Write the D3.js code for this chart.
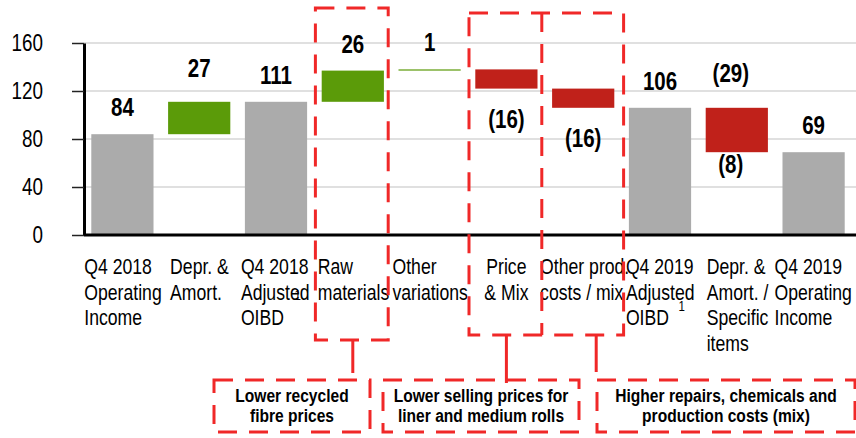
<!DOCTYPE html>
<html>
<head>
<meta charset="utf-8">
<script src="https://cdn.jsdelivr.net/npm/d3@7"></script>
<style>
  html, body { margin: 0; padding: 0; background: #fff; }
  svg { display: block; }
</style>
</head>
<body>
<svg id="svg" width="856" height="438"></svg>
<script>
// chart data
var categories = ["Q4 2018 Operating Income", "Depr. & Amort.", "Q4 2018 Adjusted OIBD",
  "Raw materials", "Other variations", "Price & Mix", "Other prod. costs / mix",
  "Q4 2019 Adjusted OIBD", "Depr. & Amort. / Specific items", "Q4 2019 Operating Income"];
var categoryLines = [["Q4 2018", "Operating", "Income"], ["Depr. &", "Amort."], ["Q4 2018", "Adjusted", "OIBD"],
  ["Raw", "materials"], ["Other", "variations"], ["Price", "& Mix"], ["Other prod.", "costs / mix"],
  ["Q4 2019", "Adjusted", "OIBD"], ["Depr. &", "Amort. /", "Specific", "items"], ["Q4 2019", "Operating", "Income"]];
var barTypes = ["total", "delta", "total", "delta", "delta", "delta", "delta", "total", "delta", "total"];
var values = [84, 27, 111, 26, 1, -16, -16, 106, -37, 69];
var valueLabels = [["84"], ["27"], ["111"], ["26"], ["1"], ["(16)"], ["(16)"], ["106"], ["(29)", "(8)"], ["69"]];
var yTicks = [0, 40, 80, 120, 160];
var footnoteCats = [2, 7];
var callouts = ["Raw materials", "Price & Mix", "Other prod. costs / mix"];
var calloutTexts = [["Lower recycled", "fibre prices"], ["Lower selling prices for", "liner and medium rolls"],
  ["Higher repairs, chemicals and", "production costs (mix)"]];

var svg = d3.select("#svg");
var width = 856, height = 438;

// narrow font if we have it, otherwise squeeze the regular one
function measure(family) {
  var t = svg.append("text").style("font-family", family).style("font-size", "100px").text("Operating Income");
  var w = t.node().getComputedTextLength();
  t.remove();
  return w;
}
var narrowOk = measure("'Liberation Sans Narrow'") < 0.9 * measure("'Liberation Sans'");
var family = narrowOk ? "'Liberation Sans Narrow', 'Liberation Sans', sans-serif" : "'Liberation Sans', Arial, sans-serif";
var sx = narrowOk ? 1 : 0.82;

function txt(parent, x, y, s, size, weight, anchor) {
  return parent.append("text")
    .attr("transform", `translate(${x},${y}) scale(${sx},1)`)
    .attr("text-anchor", anchor || "start")
    .style("font-family", family)
    .style("font-size", size + "px")
    .style("font-weight", weight || "normal")
    .style("fill", "#000")
    .text(s);
}

// scales
var xScale = d3.scaleBand().domain(categories).range([84, 852]).paddingInner(0.19).paddingOuter(0.095);
var yScale = d3.scaleLinear().domain([0, 160]).range([235, 43]);
var step = xScale.step();
var bw = xScale.bandwidth();
var cellStart = d => xScale(d) - (step - bw) / 2;

// waterfall bounds
var running = 0;
var bars = categories.map((c, i) => {
  var v = values[i], lo, hi;
  if (barTypes[i] == "total") { lo = 0; hi = v; running = v; }
  else { lo = Math.min(running, running + v); hi = Math.max(running, running + v); running += v; }
  return { cat: c, i: i, v: v, lo: lo, hi: hi, type: barTypes[i] };
});

// gridlines
svg.append("g").selectAll("line").data(yTicks.filter(d => d > 0)).enter()
  .append("line")
  .attr("x1", 84).attr("x2", width)
  .attr("y1", d => yScale(d)).attr("y2", d => yScale(d))
  .style("stroke", "#d6d6d6").style("stroke-width", 1.5);

// y axis
var yAxis = svg.append("g")
  .attr("transform", "translate(84,0)")
  .call(d3.axisLeft(yScale).tickValues(yTicks).tickSize(12).tickSizeOuter(0).tickPadding(29));
yAxis.select(".domain").style("stroke", "#000").style("stroke-width", 3);
yAxis.selectAll(".tick line").style("stroke", "#222").style("stroke-width", 1.5);
yAxis.selectAll(".tick text")
  .attr("x", -41 / sx)
  .attr("transform", `scale(${sx},1)`)
  .attr("dy", "0.34em")
  .style("font-family", family)
  .style("font-size", "23px")
  .style("fill", "#000");

// bars
var colour = d => d.type == "total" ? "#ababab" : (d.v >= 0 ? "#5b9b09" : "#c0211a");
svg.append("g").selectAll("rect").data(bars).enter()
  .append("rect")
  .attr("x", d => xScale(d.cat))
  .attr("width", bw)
  .attr("y", d => yScale(d.hi))
  .attr("height", d => Math.max(1, yScale(d.lo) - yScale(d.hi)))
  .style("fill", colour);

// x axis line
svg.append("line")
  .attr("x1", 84).attr("x2", width)
  .attr("y1", yScale(0)).attr("y2", yScale(0))
  .style("stroke", "#000").style("stroke-width", 3);

// value labels
var labels = svg.append("g");
bars.forEach(d => {
  var cx = xScale(d.cat) + bw / 2;
  var ls = valueLabels[d.i];
  if (ls.length == 2) {
    txt(labels, cx - 6, yScale(d.hi) - 26, ls[0], 25, "bold", "middle");
    txt(labels, cx - 6, yScale(d.lo) + 21, ls[1], 25, "bold", "middle");
  } else if (d.v < 0) {
    txt(labels, cx, yScale(d.lo) + 39, ls[0], 25, "bold", "middle");
  } else {
    var lift = d.i == 1 ? 25 : 18;
    txt(labels, cx, yScale(d.hi) - lift, ls[0], 25, "bold", "middle");
  }
});

// category labels (text boxes in the original sit a little off the bars)
var labelNudge = [-7, 2, -4, -4, -6, 0, -12, -3, 1, -8];
var cats = svg.append("g");
categories.forEach((c, i) => {
  var centred = c == "Price & Mix";
  var x = centred ? xScale(c) + bw / 2 : xScale(c) + labelNudge[i];
  categoryLines[i].forEach((line, k) => {
    txt(cats, x, 274 + k * 25.5, line, 21.5, "normal", centred ? "middle" : "start");
  });
});
footnoteCats.forEach((i, k) => {
  txt(cats, cellStart(categories[i]) + 57, k == 0 ? 300 : 311, "1", 14, "normal", "start");
});

// dashed call-out frames
var red = "#f02828";
var frames = svg.append("g")
  .style("fill", "none").style("stroke", red).style("stroke-width", 3).style("stroke-dasharray", "19,12");

var rawX0 = cellStart(callouts[0]) + 1, rawX1 = cellStart(callouts[0]) + step - 3;
frames.append("rect").attr("x", rawX0).attr("y", 8).attr("width", rawX1 - rawX0).attr("height", 332);

var prX0 = cellStart(callouts[1]) + 1, prMid = cellStart(callouts[1]) + step - 3, prX1 = cellStart(callouts[2]) + step + 2;
frames.append("rect").attr("x", prX0).attr("y", 13).attr("width", prX1 - prX0).attr("height", 322);
frames.append("line").attr("x1", prMid).attr("x2", prMid).attr("y1", 13).attr("y2", 335);

// connectors down to the comment boxes
var links = [
  [xScale(callouts[0]) + bw / 2, 340, 373],
  [xScale(callouts[1]) + bw / 2, 335, 383],
  [xScale(callouts[2]) + bw / 2 + 13, 335, 372]
];
svg.append("g").selectAll("line").data(links).enter()
  .append("line")
  .attr("x1", d => d[0]).attr("x2", d => d[0])
  .attr("y1", d => d[1]).attr("y2", d => d[2])
  .style("stroke", red).style("stroke-width", 3);

// comment boxes
var boxes = [[214, 370], [383, 579], [597, 855]];
boxes.forEach((b, i) => {
  frames.append("rect").attr("x", b[0]).attr("y", 380).attr("width", b[1] - b[0]).attr("height", 52);
  var cx = (b[0] + b[1]) / 2;
  txt(svg, cx, 402, calloutTexts[i][0], 19, "bold", "middle");
  txt(svg, cx, 422, calloutTexts[i][1], 19, "bold", "middle");
});
</script>
</body>
</html>
